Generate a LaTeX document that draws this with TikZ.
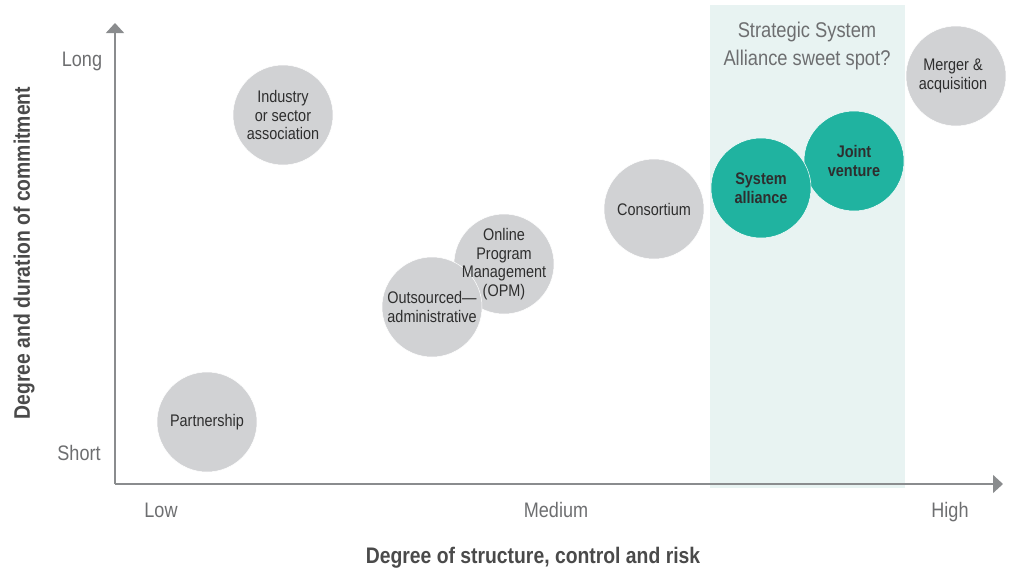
\documentclass[tikz,border=0pt]{standalone}
\usepackage{fontspec}
\setmainfont{Liberation Sans}[FakeStretch=0.86]
\usetikzlibrary{arrows.meta}
\definecolor{bubble}{HTML}{D1D2D4}
\definecolor{teal}{HTML}{20B3A0}
\definecolor{zone}{HTML}{E8F3F2}
\definecolor{axisgray}{HTML}{8A8C8E}
\definecolor{ticktext}{HTML}{6D6E70}
\definecolor{darktext}{HTML}{2E2E2E}
\definecolor{titletext}{HTML}{4A4A4A}
\begin{document}
\begin{tikzpicture}[x=1pt,y=-1pt,
  bubblebase/.style={circle, minimum size=100pt, inner sep=0pt, draw=white, line width=0.5pt},
  graybubble/.style={bubblebase, fill=bubble},
  tealbubble/.style={bubblebase, fill=teal},
  bubbletext/.style={align=center, inner sep=0pt, text=darktext, font=\fontsize{16.8}{18.5}\selectfont},
  boldtext/.style={bubbletext, font=\fontsize{16.8}{19}\selectfont\bfseries},
  ticklabel/.style={text=ticktext, font=\fontsize{21}{24}\selectfont, inner sep=0pt, anchor=base},
  axistitle/.style={text=titletext, font=\fontsize{22.5}{26}\selectfont\bfseries, inner sep=0pt},
  axisline/.style={draw=axisgray, line width=1.5pt, -{Triangle[length=10pt,width=18pt]}}]
\useasboundingbox (0,0) rectangle (1013,573);

% highlighted zone
\fill[zone] (710,5) rectangle (905,488);
\node[text=ticktext, align=center, font=\fontsize{21.3}{28}\selectfont] (zonetitle) at (807,46)
  {Strategic System\\Alliance sweet spot?};

% axes
\coordinate (origin) at (115,484);
\coordinate (ytip) at (115,23);
\coordinate (xtip) at (1003,484);
\draw[axisline] (origin) -- (ytip);
\draw[axisline] (origin) -- (xtip);

% tick labels
\node[ticklabel] (long) at (82,66) {Long};
\node[ticklabel] (short) at (79,460) {Short};
\node[ticklabel] (low) at (161,517) {Low};
\node[ticklabel] (medium) at (556,517) {Medium};
\node[ticklabel] (high) at (950,517) {High};

% axis titles
\node[axistitle] (xtitle) at (533,558) {Degree of structure, control and risk};
\node[axistitle, rotate=90] (ytitle) at (24,253) {Degree and duration of commitment};

% bubbles (discs first, labels on top so overlapping text stays readable)
\node[graybubble] (industry) at (283,115) {};
\node[graybubble] (partnership) at (207,422) {};
\node[graybubble] (opm) at (504,264) {};
\node[graybubble] (outsourced) at (432,307) {};
\node[graybubble] (consortium) at (654,209) {};
\node[tealbubble] (joint) at (854,161) {};
\node[tealbubble] (alliance) at (761,188) {};
\node[graybubble] (merger) at (956,76) {};

\node[bubbletext] (industry-t) at (industry) {Industry\\or sector\\association};
\node[bubbletext] (partnership-t) at (partnership) {Partnership};
\node[bubbletext] (opm-t) at (opm) {Online\\Program\\Management\\(OPM)};
\node[bubbletext] (outsourced-t) at (outsourced) {Outsourced—\\administrative};
\node[bubbletext] (consortium-t) at (consortium) {Consortium};
\node[boldtext] (joint-t) at (joint) {Joint\\venture};
\node[boldtext] (alliance-t) at (alliance) {System\\alliance};
\node[bubbletext] (merger-t) at ([xshift=-3pt]merger.center) {Merger \&\\acquisition};
\end{tikzpicture}
\end{document}
